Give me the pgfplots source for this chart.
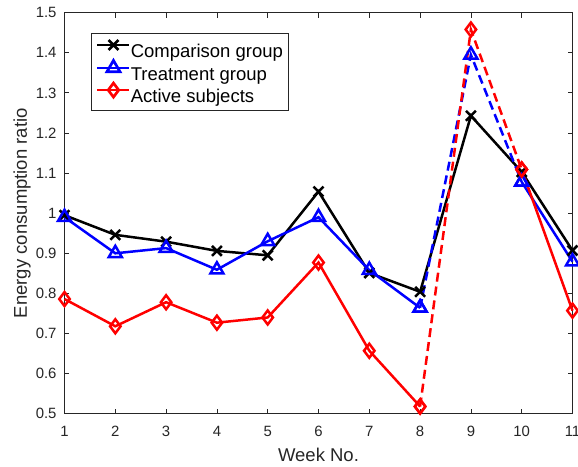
\documentclass[border=0pt]{standalone}
\usepackage{pgfplots}
\pgfplotsset{compat=1.18}
\usepackage{fontspec}
\setmainfont{Liberation Sans}
\definecolor{axgray}{gray}{0.15}
\begin{document}
\begin{tikzpicture}
\begin{axis}[
  scale only axis, width=508pt, height=401pt,
  at={(0,0)}, anchor=south west,
  xmin=1, xmax=11, ymin=0.5, ymax=1.5,
  xtick={1,2,...,11},
  ytick={0.5,0.6,0.7,0.8,0.9,1,1.1,1.2,1.3,1.4,1.5},
  yticklabels={0.5,0.6,0.7,0.8,0.9,1,1.1,1.2,1.3,1.4,1.5},
  /pgf/number format/assume math mode=true,
  clip=false,
  axis line style={axgray, line width=0.8pt},
  tick style={axgray, line width=0.8pt},
  major tick length=5pt,
  tick align=inside,
  tick pos=both,
  ticklabel style={font=\fontsize{14.9}{17}\selectfont, text=axgray},
  xticklabel style={anchor=base, yshift=-23pt, inner sep=0pt},
  yticklabel style={anchor=east, xshift=-7.8pt, inner sep=0pt},
  xlabel={Week No.},
  ylabel={Energy consumption ratio},
  label style={font=\fontsize{18.5}{22}\selectfont, text=axgray},
  xlabel style={at={(axis description cs:0.5,-0.1197)}, anchor=base, inner sep=0pt},
  ylabel style={at={(axis description cs:-0.0659,0.5)}, anchor=south, rotate=0, inner sep=0pt},
  legend style={at={(axis description cs:0.0516,0.949)}, anchor=north west,
    draw=axgray, line width=0.8pt, fill=white,
    font=\fontsize{18.5}{22}\selectfont,
    inner xsep=5pt, inner ysep=6.5pt,
    row sep=1.5pt,
    nodes={inner sep=0pt, text=black},
    /tikz/every even column/.append style={column sep=6pt}},
  legend cell align=left,
  legend image code/.code={\draw[line width=2.7pt, mark repeat=2,mark phase=2] plot coordinates {(0pt,6.5pt)(16pt,6.5pt)(32pt,6.5pt)};},
  every axis plot/.append style={line width=2.5pt},
]
% Comparison group
\addplot[black, mark=x, mark size=7pt, mark options={solid}] coordinates {
(1,0.995)(2,0.946)(3,0.929)(4,0.906)(5,0.895)(6,1.054)(7,0.851)(8,0.804)(9,1.243)(10,1.103)(11,0.907)};
\addlegendentry{Comparison group}
% Treatment group
\addplot[blue, mark=triangle, mark size=7.5pt, mark options={solid}] coordinates {
(1,0.99)(2,0.90)(3,0.913)(4,0.859)(5,0.93)(6,0.99)(7,0.858)(8,0.764)};
\addlegendentry{Treatment group}
% Active subjects
\addplot[red, mark=diamond, mark size=7pt, mark options={solid}] coordinates {
(1,0.786)(2,0.718)(3,0.778)(4,0.727)(5,0.740)(6,0.877)(7,0.657)(8,0.518)};
\addlegendentry{Active subjects}
\addplot[blue, dash pattern=on 9pt off 5pt, mark=triangle, mark size=7.5pt, mark options={solid}, forget plot] coordinates {
(8,0.764)(9,1.395)(10,1.078)};
\addplot[blue, mark=triangle, mark size=7.5pt, mark options={solid}, forget plot] coordinates {
(10,1.078)(11,0.879)};
\addplot[red, dash pattern=on 9pt off 5pt, mark=diamond, mark size=7pt, mark options={solid}, forget plot] coordinates {
(8,0.518)(9,1.458)(10,1.109)};
\addplot[red, mark=diamond, mark size=7pt, mark options={solid}, forget plot] coordinates {
(10,1.109)(11,0.757)};
\end{axis}
\pgfresetboundingbox
\useasboundingbox (-64.5pt,-52.3pt) rectangle (513.5pt,413.7pt);
\end{tikzpicture}
\end{document}
